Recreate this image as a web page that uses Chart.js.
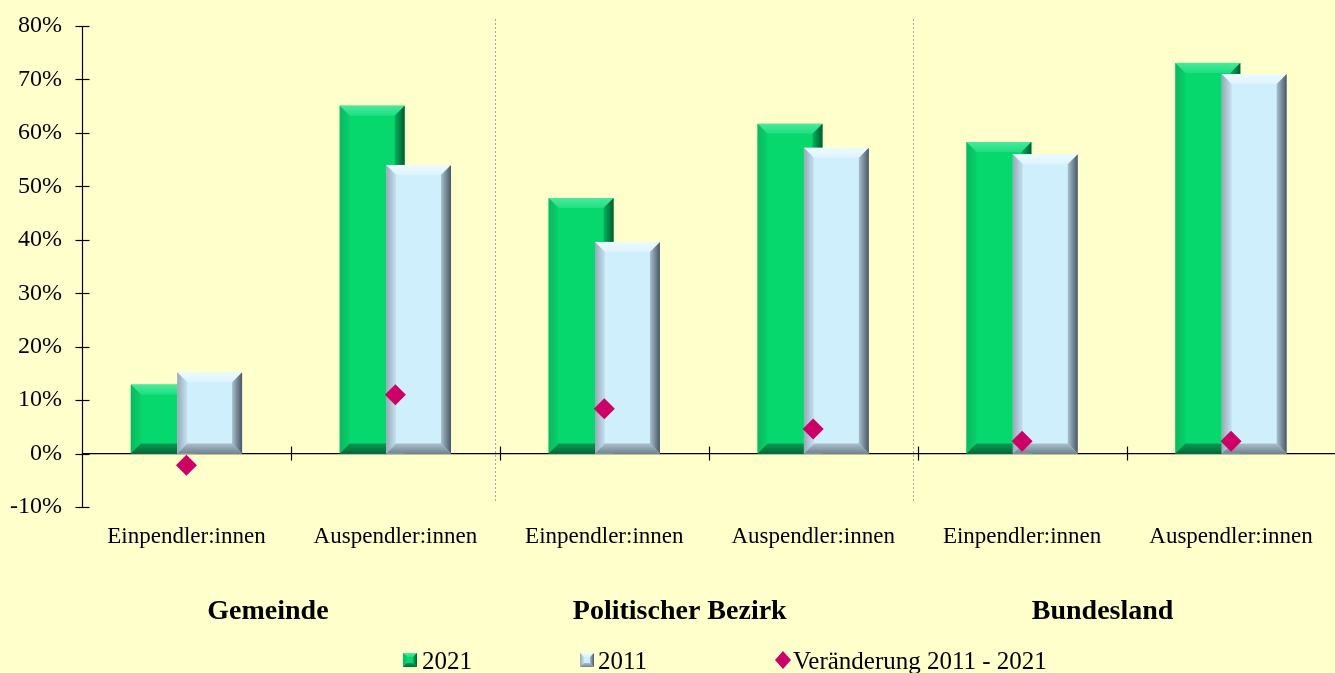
<!DOCTYPE html>
<html>
<head>
<meta charset="utf-8">
<script src="https://cdn.jsdelivr.net/npm/chart.js@4"></script>
<style>
html,body{margin:0;padding:0;background:#ffffcc;overflow:hidden;width:1335px;height:673px;}
canvas{display:block;}
</style>
</head>
<body>
<canvas id="c" width="1346" height="673" style="width:1346px;height:673px"></canvas>
<script>
// ---- data ----
const categories = ['Einpendler:innen','Auspendler:innen','Einpendler:innen','Auspendler:innen','Einpendler:innen','Auspendler:innen'];
const groups = ['Gemeinde','Politischer Bezirk','Bundesland'];
const values2021 = [12.9, 65.1, 47.8, 61.7, 58.3, 73.1];
const values2011 = [15.2, 54.0, 39.6, 57.2, 56.0, 71.0];
const changeValues = [-2.2, 11.0, 8.4, 4.6, 2.3, 2.3];
const seriesLabels = ['2021', '2011', 'Veränderung 2011 - 2021'];
const yMin = -10, yMax = 80, yStep = 10;

const SERIF = '"Liberation Serif","Times New Roman",serif';

const palettes = {
  green: {face:'#07d86e', top:['#4ae99a','#1edf80'], left:['#0bb960','#08d06a'], right:['#07b35c','#04592f'], bottom:['#0a9a50','#05663a']},
  blue:  {face:'#cfeffd', top:['#eefaff','#dcf4ff'], left:['#97a9b8','#c4e2f0'], right:['#a7c0cf','#4a5663'], bottom:['#aabfcc','#73838f']}
};

function bevelRect(ctx, l, t, r, b, s, p) {
  const h = b - t, w = r - l;
  s = Math.min(s, w / 3, Math.abs(h) / 3);
  ctx.save();
  ctx.fillStyle = p.face;
  ctx.fillRect(l, t, w, h);
  let g;
  g = ctx.createLinearGradient(0, t, 0, t + s);
  g.addColorStop(0, p.top[0]); g.addColorStop(1, p.top[1]);
  ctx.fillStyle = g;
  ctx.beginPath(); ctx.moveTo(l, t); ctx.lineTo(r, t); ctx.lineTo(r - s, t + s); ctx.lineTo(l + s, t + s); ctx.closePath(); ctx.fill();
  g = ctx.createLinearGradient(l, 0, l + s, 0);
  g.addColorStop(0, p.left[0]); g.addColorStop(1, p.left[1]);
  ctx.fillStyle = g;
  ctx.beginPath(); ctx.moveTo(l, t); ctx.lineTo(l + s, t + s); ctx.lineTo(l + s, b - s); ctx.lineTo(l, b); ctx.closePath(); ctx.fill();
  g = ctx.createLinearGradient(0, b - s, 0, b);
  g.addColorStop(0, p.bottom[0]); g.addColorStop(1, p.bottom[1]);
  ctx.fillStyle = g;
  ctx.beginPath(); ctx.moveTo(l, b); ctx.lineTo(l + s, b - s); ctx.lineTo(r - s, b - s); ctx.lineTo(r, b); ctx.closePath(); ctx.fill();
  g = ctx.createLinearGradient(r - s, 0, r, 0);
  g.addColorStop(0, p.right[0]); g.addColorStop(1, p.right[1]);
  ctx.fillStyle = g;
  ctx.beginPath(); ctx.moveTo(r, t); ctx.lineTo(r, b); ctx.lineTo(r - s, b - s); ctx.lineTo(r - s, t + s); ctx.closePath(); ctx.fill();
  ctx.restore();
}

const bgPlugin = {
  id: 'bg',
  beforeDraw(chart) {
    const ctx = chart.ctx;
    ctx.save();
    ctx.fillStyle = '#ffffcc';
    ctx.fillRect(0, 0, chart.width, chart.height);
    ctx.restore();
  }
};

const barsPlugin = {
  id: 'bevelBars',
  beforeDatasetDraw(chart, args) {
    if (chart.data.datasets[args.index].type === 'bar') return false;
  },
  beforeDatasetsDraw(chart) {
    const ctx = chart.ctx;
    const x = chart.scales.x, y = chart.scales.y;
    ctx.save();
    ctx.strokeStyle = '#000';
    ctx.lineWidth = 1.2;
    const zero = y.getPixelForValue(0);
    ctx.beginPath();
    ctx.moveTo(chart.chartArea.left, zero); ctx.lineTo(chart.chartArea.right, zero);
    ctx.stroke();
    ctx.strokeStyle = '#a9a99a';
    ctx.lineWidth = 1;
    ctx.setLineDash([2, 2]);
    [1.5, 3.5].forEach(v => {
      const px = Math.round(x.getPixelForValue(v) - 5) + 0.5;
      ctx.beginPath(); ctx.moveTo(px, 19); ctx.lineTo(px, y.getPixelForValue(yMin) - 4); ctx.stroke();
    });
    ctx.restore();

    const pals = [palettes.green, palettes.blue];
    [0, 1].forEach(di => {
      const meta = chart.getDatasetMeta(di);
      meta.data.forEach(el => {
        const p = el.getProps(['x', 'y', 'base', 'width'], true);
        const l = p.x - p.width / 2, r = p.x + p.width / 2;
        const t = Math.min(p.y, p.base), b = Math.max(p.y, p.base);
        bevelRect(ctx, l, t, r, b, 10, pals[di]);
      });
    });
  },
  afterDatasetsDraw(chart) {
    const ctx = chart.ctx;
    const x = chart.scales.x, y = chart.scales.y;
    ctx.save();
    ctx.strokeStyle = '#000';
    ctx.lineWidth = 1.2;
    const ax = chart.chartArea.left + 0.5;
    ctx.beginPath();
    ctx.moveTo(ax, y.getPixelForValue(yMax)); ctx.lineTo(ax, y.getPixelForValue(yMin));
    ctx.stroke();
    y.ticks.forEach((t, i) => {
      const py = Math.round(y.getPixelForTick(i)) + 0.5;
      ctx.beginPath(); ctx.moveTo(ax - 7, py); ctx.lineTo(ax + 7, py); ctx.stroke();
    });
    const zero = y.getPixelForValue(0);
    for (let i = 1; i < categories.length; i++) {
      const px = Math.round(x.getPixelForValue(i - 0.5)) + 0.5;
      ctx.beginPath(); ctx.moveTo(px, zero - 7); ctx.lineTo(px, zero + 7); ctx.stroke();
    }
    ctx.restore();
  }
};

const textPlugin = {
  id: 'texts',
  afterDraw(chart) {
    const ctx = chart.ctx;
    const x = chart.scales.x;
    ctx.save();
    ctx.fillStyle = '#000';
    ctx.font = 'bold 28px ' + SERIF;
    ctx.textAlign = 'center';
    ctx.textBaseline = 'alphabetic';
    const groupShift = [-23, -29, -24];
    groups.forEach((g, i) => {
      const cx = x.getPixelForValue(i * 2 + 0.5) + groupShift[i];
      ctx.fillText(g, cx, 619);
    });
    ctx.font = '25px ' + SERIF;
    ctx.textAlign = 'left';
    const ly = 669;
    const items = [
      {mx: 403, tx: 422, kind: 'green'},
      {mx: 580, tx: 598, kind: 'blue'},
      {mx: 783, tx: 793, kind: 'diamond'}
    ];
    items.forEach((it, i) => {
      if (it.kind === 'diamond') {
        ctx.fillStyle = '#cc0066';
        ctx.beginPath();
        ctx.moveTo(it.mx, 651); ctx.lineTo(it.mx + 8, 660); ctx.lineTo(it.mx, 669); ctx.lineTo(it.mx - 8, 660); ctx.closePath();
        ctx.fill();
      } else {
        bevelRect(ctx, it.mx, 653, it.mx + 14, 667, 4, palettes[it.kind]);
      }
      ctx.fillStyle = '#000';
      ctx.fillText(chart.data.datasets[i].label, it.tx, ly);
    });
    ctx.restore();
  }
};

new Chart(document.getElementById('c'), {
  data: {
    labels: categories,
    datasets: [
      {type: 'bar', label: seriesLabels[0], data: values2021, backgroundColor: '#07d86e', order: 1,
       categoryPercentage: 0.444, barPercentage: 1.40},
      {type: 'bar', label: seriesLabels[1], data: values2011, backgroundColor: '#cfeffd', order: 1,
       categoryPercentage: 0.444, barPercentage: 1.40},
      {type: 'line', label: seriesLabels[2], data: changeValues, order: 0, showLine: false,
       pointStyle: 'rectRot', pointRadius: 10.5, pointHoverRadius: 10.5,
       backgroundColor: '#cc0066', borderColor: '#cc0066', borderWidth: 0}
    ]
  },
  options: {
    responsive: false,
    animation: false,
    layout: {padding: {top: 26, left: 0, right: 0, bottom: 0}},
    plugins: {legend: {display: false}, tooltip: {enabled: false}},
    scales: {
      x: {
        offset: true,
        grid: {display: false, drawTicks: false},
        border: {display: false},
        ticks: {color: '#000', font: {family: SERIF, size: 23}, padding: 16, maxRotation: 0, autoSkip: false},
        afterFit(s) { s.height = 166; s.paddingLeft = 0; s.paddingRight = 0; }
      },
      y: {
        min: yMin, max: yMax,
        grid: {display: false, drawTicks: false},
        border: {display: false},
        ticks: {stepSize: yStep, color: '#000', font: {family: SERIF, size: 24}, padding: 20,
                callback: v => v + '%'},
        afterFit(s) { s.width = 82; s.paddingTop = 0; s.paddingBottom = 0; }
      }
    }
  },
  plugins: [bgPlugin, barsPlugin, textPlugin]
});
</script>
</body>
</html>
